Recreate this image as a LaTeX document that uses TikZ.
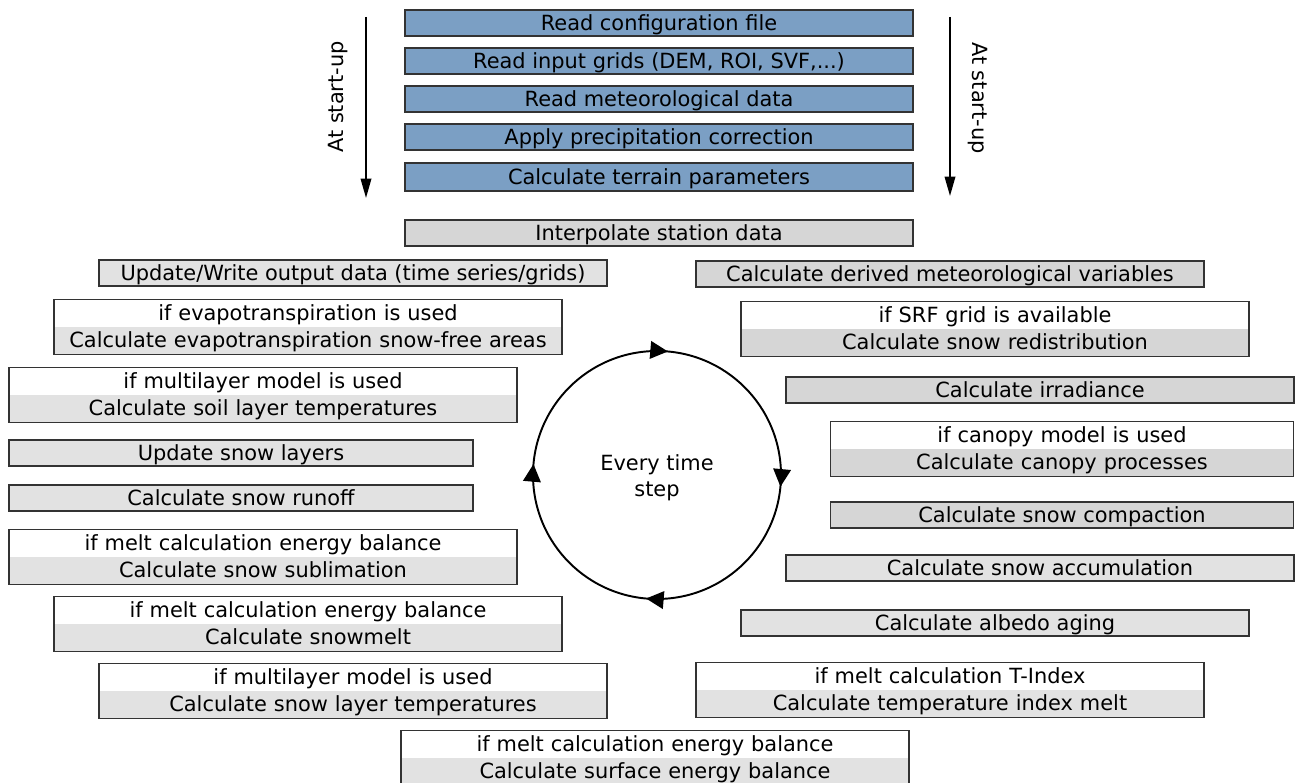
\documentclass[tikz,border=0pt]{standalone}
\usepackage{fontspec}
\setmainfont{DejaVu Sans}
\usetikzlibrary{shapes.multipart,arrows.meta,decorations.markings}

\definecolor{startblue}{HTML}{7B9FC4}
\definecolor{lightgrey}{HTML}{E2E2E2}
\definecolor{midgrey}{HTML}{D6D6D6}

\tikzset{
  box/.style={draw=black!80, line width=0.8pt, inner sep=0pt,
    minimum height=0.52cm, text height=9pt, text depth=1pt},
  startbox/.style={box, fill=startblue, minimum width=10.16cm},
  stepbox/.style 2 args={box, fill=#2, minimum width=#1},
  ifbox/.style 2 args={draw=black!80, line width=0.8pt, rectangle split,
    rectangle split parts=2, rectangle split draw splits=false,
    rectangle split part fill={white,#2}, text width=#1, align=center,
    inner xsep=0pt, inner ysep=0pt},
  startarrow/.style={line width=1pt, -{Triangle[length=11pt,width=6pt]}},
  looparrows/.style={line width=1.1pt, decoration={markings,
    mark=at position 0.015 with {\arrow{Triangle[length=10pt,width=10pt]}},
    mark=at position 0.264 with {\arrow{Triangle[length=10pt,width=10pt]}},
    mark=at position 0.514 with {\arrow{Triangle[length=10pt,width=10pt]}},
    mark=at position 0.764 with {\arrow{Triangle[length=10pt,width=10pt]}}},
    postaction={decorate}}
}

% one line of a two-row box
\newcommand{\rowstrut}{\rule[-3.4pt]{0pt}{14.74pt}}
\newcommand{\cond}[2]{\rowstrut #1\nodepart{two}\rowstrut #2}

\begin{document}
\begin{tikzpicture}[x=0.02cm, y=-0.02cm, font=\fontsize{11.9}{14.7}\selectfont]
\useasboundingbox (0,0) rectangle (1296,783);

% At start-up
\foreach \txt [count=\i from 0] in {Read configuration file,
    {Read input grids (DEM, ROI, SVF,.{}..)}, Read meteorological data,
    Apply precipitation correction}
  \node[startbox] (s\i) at (659,23+38*\i) {\txt};
\node[startbox, minimum height=0.56cm] (s4) at (659,177) {Calculate terrain parameters};

\coordinate (la) at (366,17);
\coordinate (lb) at (366,198);
\coordinate (ra) at (950,17);
\coordinate (rb) at (950,196);
\draw[startarrow] (la) -- (lb);
\draw[startarrow] (ra) -- (rb);
\node[rotate=90] (lt) at (338,97) {At start-up};
\node[rotate=-90] (rt) at (978,98) {At start-up};

% Every time step
\node[stepbox={10.16cm}{midgrey}] (t1) at (659,233) {Interpolate station data};
\node[stepbox={10.16cm}{midgrey}] (t2) at (950,274) {Calculate derived meteorological variables};
\node[ifbox={10.16cm}{midgrey}] (t3) at (995,329) {\cond{if SRF grid is available}{Calculate snow redistribution}};
\node[stepbox={10.16cm}{midgrey}] (t4) at (1040,390) {Calculate irradiance};
\node[ifbox={9.26cm}{midgrey}] (t5) at (1062,449) {\cond{if canopy model is used}{Calculate canopy processes}};
\node[stepbox={9.26cm}{midgrey}] (t6) at (1062,515) {Calculate snow compaction};
\node[stepbox={10.16cm}{lightgrey}] (t7) at (1040,568) {Calculate snow accumulation};
\node[stepbox={10.16cm}{lightgrey}] (t8) at (995,623) {Calculate albedo aging};
\node[ifbox={10.16cm}{lightgrey}] (t9) at (950,690) {\cond{if melt calculation T-Index}{Calculate temperature index melt}};
\node[ifbox={10.16cm}{lightgrey}] (t10) at (655,758) {\cond{if melt calculation energy balance}{Calculate surface energy balance}};
\node[ifbox={10.16cm}{lightgrey}] (t11) at (353,691) {\cond{if multilayer model is used}{Calculate snow layer temperatures}};
\node[ifbox={10.16cm}{lightgrey}] (t12) at (308,624) {\cond{if melt calculation energy balance}{Calculate snowmelt}};
\node[ifbox={10.16cm}{lightgrey}] (t13) at (263,557) {\cond{if melt calculation energy balance}{Calculate snow sublimation}};
\node[stepbox={9.28cm}{lightgrey}] (t14) at (241,498) {Calculate snow runoff};
\node[stepbox={9.28cm}{lightgrey}] (t15) at (241,453) {Update snow layers};
\node[ifbox={10.16cm}{lightgrey}] (t16) at (263,395) {\cond{if multilayer model is used}{Calculate soil layer temperatures}};
\node[ifbox={10.16cm}{lightgrey}] (t17) at (308,327) {\cond{if evapotranspiration is used}{Calculate evapotranspiration snow-free areas}};
\node[stepbox={10.16cm}{lightgrey}] (t18) at (353,273) {Update/Write output data (time series/grids)};

% Loop
\coordinate (hub) at (657,475);
\node[align=center] (loop) at (657,478) {Every time\\step};
\draw[looparrows] (hub) circle (124);

\end{tikzpicture}
\end{document}
